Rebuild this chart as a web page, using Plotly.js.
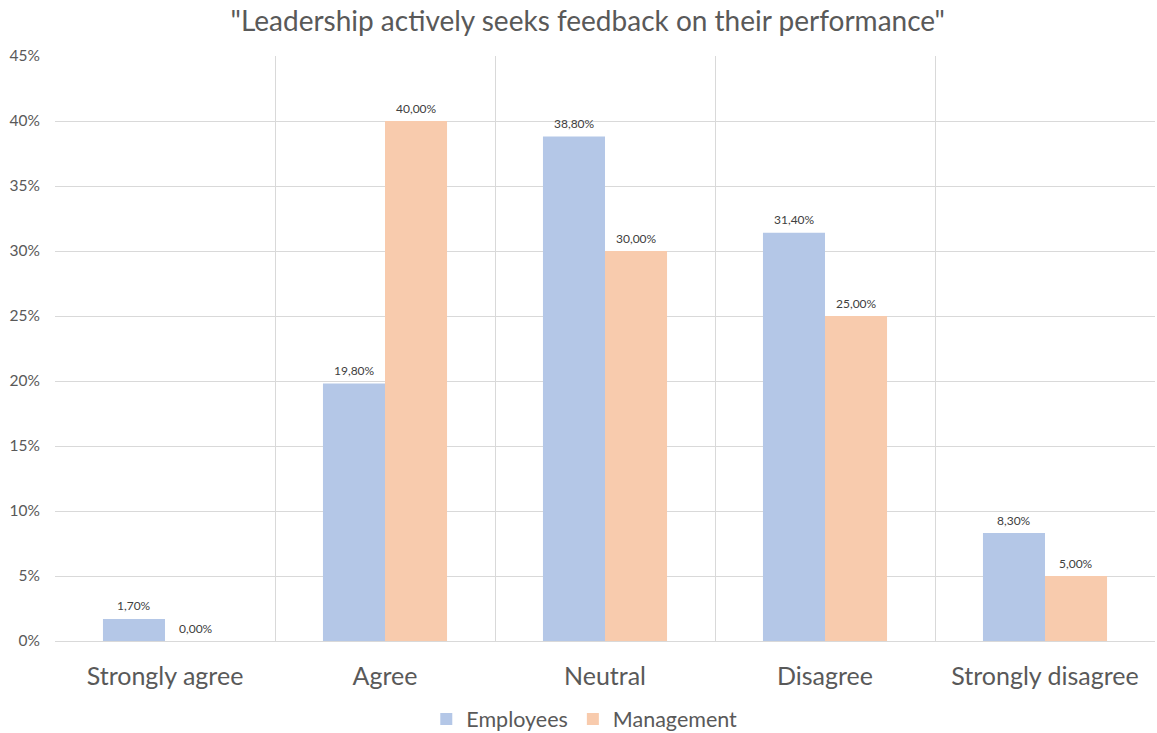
<!DOCTYPE html>
<html>
<head>
<meta charset="utf-8">
<script src="https://cdn.plot.ly/plotly-3.0.1.min.js"></script>
<style>
  html, body { margin: 0; padding: 0; background: #ffffff; }
  #chart { width: 1157px; height: 733px; }
</style>
</head>
<body>
<div id="chart"></div>
<script>
// Survey answers: share of respondents per answer (percent)
const categories = ["Strongly agree", "Agree", "Neutral", "Disagree", "Strongly disagree"];
const employees = [1.7, 19.8, 38.8, 31.4, 8.3];
const management = [0.0, 40.0, 30.0, 25.0, 5.0];
const yTicks = [0, 5, 10, 15, 20, 25, 30, 35, 40, 45];

const FONT = "Lato, 'Open Sans', sans-serif";
const TEXT = "#595959";
const BAR_HALF = 31; // half of one bar's pixel width, used to centre value labels

function barTrace(name, values, color) {
  return {
    type: "bar",
    name: name,
    x: categories,
    y: values,
    marker: { color: color, line: { width: 0 } },
    hoverinfo: "x+y"
  };
}

const data = [
  barTrace("Employees", employees, "#b4c7e7"),
  barTrace("Management", management, "#f8cbad")
];

// value labels sitting a little above each bar
function valueLabels(values, shift) {
  return values.map((v, i) => ({
    xref: "x",
    yref: "y",
    x: categories[i],
    y: v,
    xshift: shift,
    yshift: 13,
    yanchor: "middle",
    showarrow: false,
    text: v.toFixed(2).replace(".", ",") + "%",
    font: { family: FONT, size: 12, color: "#404040" }
  }));
}

const layout = {
  width: 1157,
  height: 733,
  paper_bgcolor: "#ffffff",
  plot_bgcolor: "#ffffff",
  separators: ",.",
  margin: { l: 55, r: 2, t: 56, b: 92, autoexpand: false },
  font: { family: FONT, color: TEXT },
  title: {
    text: "\"Leadership actively seeks feedback on their performance\"",
    font: { family: FONT, size: 28, color: TEXT },
    x: 0.508,
    xref: "container",
    xanchor: "center",
    y: 1 - 21 / 733,
    yref: "container",
    yanchor: "middle"
  },
  barmode: "group",
  bargap: 0.436,
  bargroupgap: 0,
  xaxis: {
    type: "category",
    tickson: "boundaries",
    showgrid: true,
    gridcolor: "#d9d9d9",
    gridwidth: 1,
    showline: true,
    linecolor: "#d9d9d9",
    ticks: "",
    ticklabelstandoff: 13,
    tickfont: { family: FONT, size: 25, color: TEXT },
    zeroline: false
  },
  yaxis: {
    range: [0, 45],
    tickvals: yTicks,
    ticktext: yTicks.map(v => v + "%"),
    showgrid: true,
    gridcolor: "#d9d9d9",
    gridwidth: 1,
    zeroline: false,
    showline: false,
    ticks: "",
    ticklabelstandoff: 14,
    tickfont: { family: FONT, size: 15.5, color: TEXT },
    fixedrange: true
  },
  annotations: valueLabels(employees, -BAR_HALF).concat(valueLabels(management, BAR_HALF)),
  showlegend: true,
  legend: {
    orientation: "h",
    x: 0.505,
    xref: "container",
    xanchor: "center",
    y: 14 / 733,
    yref: "container",
    yanchor: "middle",
    font: { family: FONT, size: 21.5, color: TEXT },
    itemwidth: 30,
    traceorder: "normal"
  }
};

Plotly.newPlot("chart", data, layout, { displayModeBar: false, staticPlot: true });
</script>
</body>
</html>
